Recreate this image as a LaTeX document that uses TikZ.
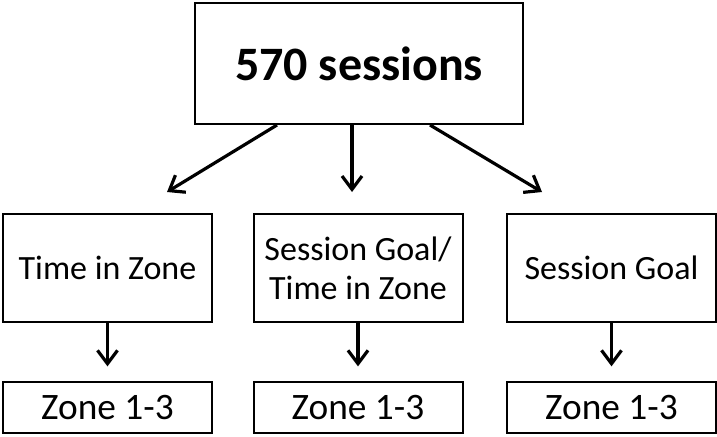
\documentclass[tikz,border=0pt]{standalone}
\usepackage{fontspec}
\setmainfont{Carlito}
\usetikzlibrary{arrows.meta}
\tikzset{
  box/.style={draw,line width=1.5pt,inner sep=0pt,align=center},
  topbox/.style={box,minimum width=246pt,minimum height=90.75pt,font=\fontsize{36}{40}\selectfont\bfseries},
  midbox/.style={box,minimum width=156.75pt,minimum height=81pt,font=\fontsize{25.5}{29.5}\selectfont},
  zonebox/.style={box,minimum width=156.75pt,minimum height=38.25pt,font=\fontsize{28}{32}\selectfont},
  arr/.style={->,line width=2.4pt}
}
\begin{document}
\begin{tikzpicture}[>={Straight Barb[length=10pt,width=15pt]},x=0.75pt,y=-0.75pt]
    \useasboundingbox (0,0) rectangle (717,436);
    % top
    \node[topbox] (all) at (359,63.5) {570 sessions};
    % second row
    \node[midbox] (tiz) at (107.5,268) {Time in Zone};
    \node[midbox] (sgtiz) at (358,268) {Session Goal/\\Time in Zone};
    \node[midbox] (sg) at (611.5,268) {Session Goal};
    % third row
    \node[zonebox] (z1) at (107.5,407.5) {Zone 1-3};
    \node[zonebox] (z2) at (358,407.5) {Zone 1-3};
    \node[zonebox] (z3) at (611.5,407.5) {Zone 1-3};
    \coordinate (tipL) at (167,192);
    \coordinate (tipM) at (352,192);
    \coordinate (tipR) at (542,192);
    \draw[arr] ([xshift=-61.5pt]all.south) -- (tipL);
    \draw[arr] ([xshift=-5.25pt]all.south) -- (tipM);
    \draw[arr] ([xshift=53.25pt]all.south) -- (tipR);
    \draw[arr,shorten >=11pt] (tiz) -- (z1);
    \draw[arr,shorten >=11pt] (sgtiz) -- (z2);
    \draw[arr,shorten >=11pt] (sg) -- (z3);
\end{tikzpicture}
\end{document}
